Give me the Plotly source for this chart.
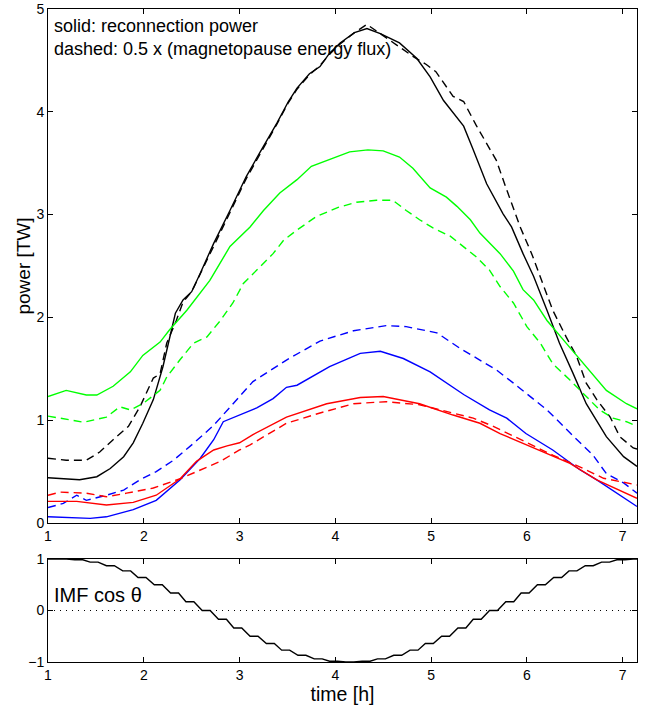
import plotly.graph_objects as go

# ---------------- data ----------------
# black: solid = reconnection power, dashed = 0.5 x magnetopause energy flux
black_solid_t = [1.00, 1.33, 1.51, 1.65, 1.79, 1.89, 1.99, 2.10, 2.20, 2.33, 2.41, 2.50, 2.59, 2.73,
                 2.90, 3.07, 3.21, 3.39, 3.51, 3.60, 3.73, 3.84, 3.94, 4.05, 4.20, 4.33, 4.47, 4.67,
                 4.85, 4.99, 5.13, 5.34, 5.44, 5.58, 5.75, 5.84, 5.96, 6.07, 6.21, 6.34, 6.48, 6.62,
                 6.83, 7.01, 7.15]
black_solid_y = [0.44, 0.42, 0.45, 0.53, 0.645, 0.78, 0.97, 1.20, 1.52, 2.04, 2.17, 2.25, 2.43, 2.72,
                 3.04, 3.37, 3.60, 3.89, 4.10, 4.23, 4.37, 4.44, 4.57, 4.67, 4.77, 4.81, 4.76, 4.67,
                 4.52, 4.34, 4.11, 3.86, 3.63, 3.30, 3.01, 2.88, 2.62, 2.40, 2.07, 1.75, 1.46, 1.16,
                 0.84, 0.645, 0.55]

black_dash_t = [1.00, 1.19, 1.40, 1.54, 1.68, 1.84, 1.96, 2.10, 2.17, 2.24, 2.34, 2.41, 2.50, 2.59,
                2.73, 2.90, 3.07, 3.21, 3.39, 3.51, 3.60, 3.73, 3.84, 3.94, 4.05, 4.20, 4.33, 4.47,
                4.67, 4.81, 4.95, 5.05, 5.23, 5.34, 5.47, 5.58, 5.68, 5.79, 5.93, 6.05, 6.17, 6.27,
                6.41, 6.52, 6.62, 6.73, 6.87, 6.97, 7.11, 7.15]
black_dash_y = [0.63, 0.61, 0.61, 0.69, 0.81, 0.94, 1.13, 1.41, 1.45, 1.75, 1.97, 2.15, 2.25, 2.42,
                2.70, 3.02, 3.35, 3.58, 3.88, 4.09, 4.22, 4.36, 4.45, 4.56, 4.66, 4.77, 4.85, 4.76,
                4.63, 4.54, 4.46, 4.39, 4.15, 4.10, 3.87, 3.69, 3.53, 3.24, 2.88, 2.62, 2.33, 2.07,
                1.81, 1.62, 1.36, 1.20, 1.03, 0.84, 0.73, 0.72]

green_solid_t = [1.00, 1.19, 1.40, 1.51, 1.68, 1.86, 1.99, 2.17, 2.27, 2.45, 2.69, 2.90, 3.11, 3.25,
                 3.42, 3.60, 3.75, 3.94, 4.15, 4.34, 4.50, 4.67, 4.81, 4.99, 5.16, 5.27, 5.41, 5.51,
                 5.72, 5.86, 5.96, 6.07, 6.21, 6.41, 6.62, 6.83, 7.04, 7.15]
green_solid_y = [1.23, 1.29, 1.245, 1.245, 1.33, 1.47, 1.63, 1.76, 1.88, 2.07, 2.36, 2.69, 2.88, 3.04,
                 3.21, 3.34, 3.47, 3.54, 3.61, 3.63, 3.62, 3.56, 3.45, 3.26, 3.17, 3.08, 2.95, 2.82,
                 2.62, 2.45, 2.27, 2.17, 1.97, 1.75, 1.52, 1.29, 1.16, 1.11]

green_dash_t = [1.00, 1.37, 1.61, 1.75, 1.86, 1.99, 2.17, 2.24, 2.38, 2.52, 2.66, 2.80, 2.93, 3.04,
                3.18, 3.35, 3.46, 3.60, 3.80, 4.03, 4.22, 4.43, 4.60, 4.74, 4.88, 5.02, 5.20, 5.34,
                5.47, 5.61, 5.72, 5.86, 6.00, 6.14, 6.27, 6.45, 6.59, 6.76, 6.90, 7.04, 7.15]
green_dash_y = [1.04, 0.98, 1.03, 1.13, 1.10, 1.16, 1.29, 1.42, 1.59, 1.75, 1.81, 1.97, 2.14, 2.33,
                2.46, 2.62, 2.75, 2.85, 2.98, 3.07, 3.12, 3.14, 3.14, 3.04, 2.95, 2.87, 2.79, 2.69,
                2.59, 2.46, 2.30, 2.14, 1.91, 1.75, 1.55, 1.39, 1.26, 1.10, 1.02, 0.985, 0.94]

blue_solid_t = [1.00, 1.44, 1.61, 1.89, 2.13, 2.38, 2.59, 2.73, 2.83, 3.00, 3.18, 3.35, 3.49, 3.60,
                3.94, 4.26, 4.47, 4.71, 4.99, 5.34, 5.61, 5.79, 5.99, 6.27, 6.55, 6.73, 6.97, 7.15]
blue_solid_y = [0.06, 0.045, 0.06, 0.13, 0.22, 0.42, 0.63, 0.81, 0.985, 1.05, 1.12, 1.21, 1.32, 1.34,
                1.52, 1.65, 1.67, 1.60, 1.47, 1.25, 1.10, 1.02, 0.87, 0.71, 0.52, 0.42, 0.27, 0.16]

blue_dash_t = [1.00, 1.16, 1.30, 1.40, 1.61, 1.79, 1.96, 2.13, 2.31, 2.52, 2.73, 2.93, 3.14, 3.49,
               3.84, 4.19, 4.53, 4.74, 5.06, 5.30, 5.51, 5.68, 5.86, 6.21, 6.48, 6.69, 6.83, 7.01, 7.15]
blue_dash_y = [0.15, 0.19, 0.27, 0.22, 0.27, 0.32, 0.42, 0.50, 0.61, 0.775, 0.95, 1.16, 1.375, 1.585,
               1.77, 1.87, 1.92, 1.91, 1.85, 1.70, 1.585, 1.49, 1.36, 1.10, 0.85, 0.66, 0.48, 0.39, 0.29]

red_solid_t = [1.00, 1.30, 1.61, 1.89, 2.13, 2.38, 2.55, 2.73, 2.87, 3.00, 3.14, 3.49, 3.91, 4.26,
               4.50, 4.88, 5.23, 5.51, 5.72, 5.99, 6.45, 6.73, 7.15]
red_solid_y = [0.21, 0.21, 0.175, 0.20, 0.27, 0.43, 0.60, 0.71, 0.75, 0.78, 0.86, 1.03, 1.16, 1.22,
               1.23, 1.16, 1.05, 0.97, 0.87, 0.76, 0.58, 0.42, 0.24]

red_dash_t = [1.00, 1.13, 1.40, 1.61, 1.82, 2.10, 2.38, 2.55, 2.80, 3.00, 3.11, 3.49, 3.84, 4.19,
              4.53, 4.88, 5.09, 5.23, 5.44, 5.65, 5.93, 6.27, 6.59, 6.80, 7.15]
red_dash_y = [0.27, 0.30, 0.29, 0.255, 0.29, 0.34, 0.43, 0.50, 0.60, 0.71, 0.76, 0.97, 1.07, 1.16,
              1.18, 1.15, 1.10, 1.07, 1.02, 0.94, 0.81, 0.66, 0.53, 0.435, 0.37]

# IMF cos(theta): stepped every 10 minutes; level and start time of each step
imf_step_start = [1.11, 1.28, 1.44, 1.61, 1.78, 1.94, 2.11, 2.28, 2.44, 2.61, 2.78, 2.94, 3.11,
                  3.28, 3.44, 3.61, 3.78, 3.94, 4.11, 4.28, 4.44, 4.61, 4.78, 4.94, 5.11, 5.28,
                  5.44, 5.61, 5.78, 5.94, 6.11, 6.28, 6.44, 6.61, 6.78, 6.94, 7.11]
imf_step_level = [1.00, 0.985, 0.94, 0.87, 0.77, 0.64, 0.50, 0.34, 0.17, 0.00, -0.17, -0.34, -0.50,
                  -0.64, -0.77, -0.87, -0.94, -0.985, -1.00, -0.985, -0.94, -0.87, -0.77, -0.64,
                  -0.50, -0.34, -0.17, 0.00, 0.17, 0.34, 0.50, 0.64, 0.77, 0.87, 0.94, 0.985, 1.00]

x_ticks = [1, 2, 3, 4, 5, 6, 7]
power_ticks = [0, 1, 2, 3, 4, 5]
cos_ticks = [-1, 0, 1]

# ---------------- figure ----------------
FONT = "Liberation Sans, Arial, Helvetica, sans-serif"
hold = 0.083
imf_x, imf_y = [1.0], [imf_step_level[0]]
for s, v in zip(imf_step_start, imf_step_level):
    imf_x += [s, min(s + hold, 7.15)]
    imf_y += [v, v]

fig = go.Figure()
series = [
    (black_solid_t, black_solid_y, "black", "solid"),
    (black_dash_t, black_dash_y, "black", "dash"),
    (green_solid_t, green_solid_y, "#00ff00", "solid"),
    (green_dash_t, green_dash_y, "#00ff00", "dash"),
    (blue_solid_t, blue_solid_y, "#0000ff", "solid"),
    (blue_dash_t, blue_dash_y, "#0000ff", "dash"),
    (red_solid_t, red_solid_y, "#ff0000", "solid"),
    (red_dash_t, red_dash_y, "#ff0000", "dash"),
]
for t, y, c, d in series:
    fig.add_trace(go.Scatter(x=t, y=y, mode="lines", xaxis="x", yaxis="y",
                             line=dict(color=c, width=1.4, dash="8px,5px" if d == "dash" else "solid"),
                             showlegend=False, hoverinfo="skip"))

fig.add_trace(go.Scatter(x=[1, 7.15], y=[0, 0], mode="lines", xaxis="x2", yaxis="y2",
                         line=dict(color="black", width=1, dash="1px,5px"), showlegend=False,
                         hoverinfo="skip"))
fig.add_trace(go.Scatter(x=imf_x, y=imf_y, mode="lines", xaxis="x2", yaxis="y2",
                         line=dict(color="black", width=1.4), showlegend=False, hoverinfo="skip"))

axis_common = dict(showgrid=False, zeroline=False, showline=True, linecolor="black", linewidth=1,
                   mirror="ticks", ticks="inside", ticklen=5, tickcolor="black", automargin=False,
                   tickfont=dict(family=FONT, size=14, color="black"))

fig.update_layout(
    width=646, height=708,
    margin=dict(l=48, r=9, t=9, b=46),
    paper_bgcolor="white", plot_bgcolor="white",
    font=dict(family=FONT, color="black"),
    xaxis=dict(domain=[0, 1], range=[1, 7.15], tickvals=x_ticks, anchor="y", **axis_common),
    yaxis=dict(domain=[0.2129, 1], range=[0, 5], tickvals=power_ticks, anchor="x",
               title=dict(text="power [TW]", font=dict(family=FONT, size=19), standoff=0),
               **axis_common),
    xaxis2=dict(domain=[0, 1], range=[1, 7.15], tickvals=x_ticks, anchor="y2",
                title=dict(text="time [h]", font=dict(family=FONT, size=19.5), standoff=0),
                **axis_common),
    yaxis2=dict(domain=[0, 0.1577], range=[-1, 1], tickvals=cos_ticks, ticktext=["\u22121", "0", "1"],
                anchor="x2", **axis_common),
    annotations=[
        dict(text="solid: reconnection power<br>dashed: 0.5 x (magnetopause energy flux)",
             xref="x", yref="y", x=1.04, y=4.95, xanchor="left", yanchor="top", showarrow=False,
             align="left", font=dict(family=FONT, size=18, color="black")),
        dict(text="IMF cos \u03b8", xref="x2", yref="y2", x=1.04, y=0.3, xanchor="left",
             yanchor="middle", showarrow=False, font=dict(family=FONT, size=20, color="black")),
    ],
)

fig.write_html("out.html", config={"displayModeBar": False, "staticPlot": True},
               post_script="document.body.style.margin='0';document.body.style.overflow='hidden';")
